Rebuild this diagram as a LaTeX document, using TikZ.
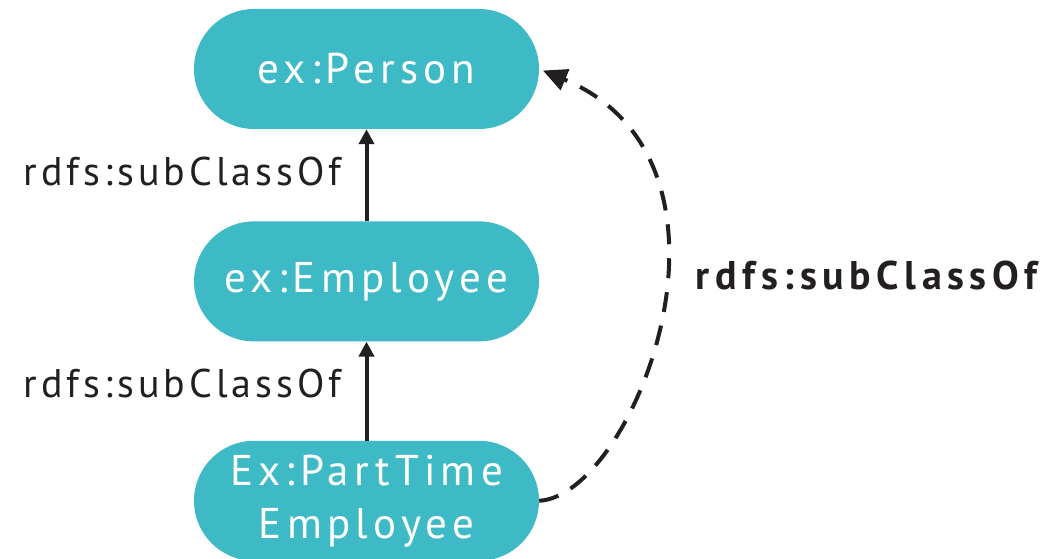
\documentclass[tikz,border=0pt]{standalone}
\usepackage{fontspec}
\setmainfont{PT Sans}
\usetikzlibrary{positioning,arrows.meta}
\definecolor{classteal}{RGB}{62,186,198}
\definecolor{inkblack}{RGB}{35,31,32}
\tikzset{>={Triangle[length=15pt,width=15pt]}}

\begin{document}
\begin{tikzpicture}[x=1pt, y=1pt,
    classnode/.style = {rectangle, rounded corners=60pt, fill=classteal, text=white, minimum width=345pt, minimum height=120pt, align=center, font=\fontsize{43}{53}\selectfont\addfontfeatures{LetterSpace=12}},
    sublabel/.style = {text=inkblack, inner sep=0pt, font=\fontsize{40}{48}\selectfont\addfontfeatures{LetterSpace=10}},
    link/.style = {draw=inkblack, line width=4pt, ->}]
  \useasboundingbox (0,0) rectangle (1053,559);
  % nodes
  \node[classnode] (person) at (366.5,490) {ex:Person};
  \node[classnode, below=92pt of person] (employee) {ex:Employee};
  \node[classnode, below=99pt of employee] (parttime) {Ex:PartTime\\Employee};

  % connections
  \draw[link] (employee.north) -- node[sublabel, left=23pt, yshift=4pt] {rdfs:subClassOf} (person.south);
  \draw[link] (parttime.north) -- node[sublabel, left=23pt, yshift=8pt] {rdfs:subClassOf} (employee.south);
  \draw[link, -{Triangle[length=24pt,width=22pt]}, dash pattern=on 20pt off 14pt, shorten >=4pt] (parttime.east) .. controls +(95,5) and +(225,-94) .. node[sublabel, font=\fontsize{40}{48}\selectfont\bfseries\addfontfeatures{LetterSpace=14}, pos=0.52, right=33pt, yshift=31pt] {rdfs:subClassOf} (person.east);
\end{tikzpicture}
\end{document}
